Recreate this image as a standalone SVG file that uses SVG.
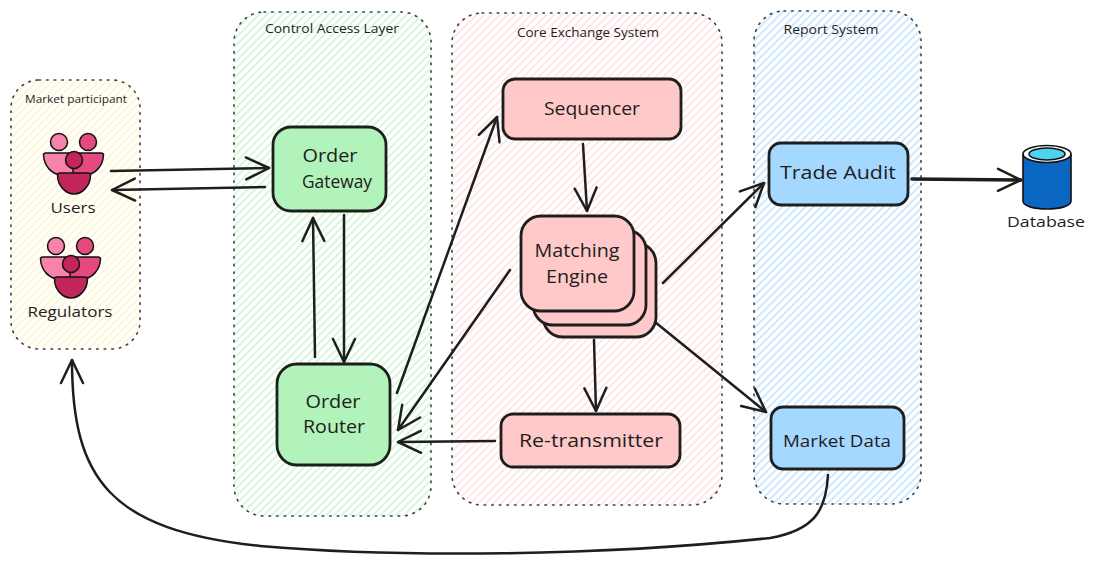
<svg xmlns="http://www.w3.org/2000/svg" width="1095" height="565" viewBox="0 0 1095 565">
<style>
text{font-family:"Open Sans","Noto Sans",sans-serif;fill:#1e1e1e;text-anchor:middle;dominant-baseline:central}
.t{font-size:18px}.s{font-size:12px}.m{font-size:15px}
.zone{stroke:#1e1e1e;stroke-width:1.6;stroke-dasharray:1.6 6;stroke-linecap:round;opacity:.85}
.box{stroke:#1e1e1e;stroke-width:2.8}
.red{fill:#ffc9c9}.grn{fill:#b2f2bb}.blu{fill:#a5d8ff}
.c{fill:none;stroke:#1e1e1e;stroke-width:2.500;stroke-linecap:round;marker-end:url(#a)}
.i{stroke:#111;stroke-width:1.5}
</style>
<defs>
<marker id="a" markerUnits="userSpaceOnUse" markerWidth="34" markerHeight="34" refX="27" refY="17" orient="auto"><path d="M4,6 L27,17 L4,28" fill="none" stroke="#1e1e1e" stroke-width="2.500" stroke-linecap="round" stroke-linejoin="round"/></marker>
<pattern id="hy" width="5.500" height="5.500" patternUnits="userSpaceOnUse" patternTransform="rotate(-45)"><rect width="5.500" height="1.700" fill="#ffec99" opacity=".6"/></pattern>
<pattern id="hg" width="5.500" height="5.500" patternUnits="userSpaceOnUse" patternTransform="rotate(-45)"><rect width="5.500" height="1.800" fill="#b2f2bb" opacity=".65"/></pattern>
<pattern id="hr" width="5.500" height="5.500" patternUnits="userSpaceOnUse" patternTransform="rotate(-45)"><rect width="5.500" height="1.700" fill="#ffc9c9" opacity=".6"/></pattern>
<pattern id="hb" width="5.500" height="5.500" patternUnits="userSpaceOnUse" patternTransform="rotate(-45)"><rect width="5.500" height="1.800" fill="#a5d8ff" opacity=".7"/></pattern>
<g id="people">
<circle class="i" cx="59" cy="142" r="8.500" fill="#f783ac"/>
<circle class="i" cx="88" cy="142" r="8.500" fill="#e64980"/>
<path class="i" d="M43.500,155 Q43.500,153 46,153 H74 V175 H62 C52,175 44,166 43.500,155Z" fill="#f783ac"/>
<path class="i" d="M103.500,155 Q103.500,153 101,153 H73 V175 H85 C95,175 103,166 103.500,155Z" fill="#e64980"/>
<circle class="i" cx="74" cy="160" r="8.500" fill="#c2255c"/>
<path class="i" d="M57.500,175 Q57.500,173 60,173 H88 Q90.500,173 90.500,175 C90.500,186 82,194 74,194 C66,194 57.500,186 57.500,175Z" fill="#c2255c"/>
</g>
</defs>

<g id="market-participant">
<rect class="zone" x="11" y="80" width="129" height="269" rx="28" fill="url(#hy)"/>
<text class="s" x="76" y="99" style="font-size:10px" textLength="102" lengthAdjust="spacingAndGlyphs">Market participant</text>
</g>
<g id="control-access-layer">
<rect class="zone" x="234" y="12" width="197" height="504" rx="30" fill="url(#hg)"/>
<text class="s" x="332" y="28" textLength="134" lengthAdjust="spacingAndGlyphs">Control Access Layer</text>
</g>
<g id="core-exchange-system">
<rect class="zone" x="452" y="13" width="270" height="492" rx="30" fill="url(#hr)"/>
<text class="s" x="588" y="32" textLength="142" lengthAdjust="spacingAndGlyphs">Core Exchange System</text>
</g>
<g id="report-system">
<rect class="zone" x="754" y="11" width="167" height="493" rx="30" fill="url(#hb)"/>
<text class="s" x="831" y="29" textLength="95" lengthAdjust="spacingAndGlyphs">Report System</text>
</g>

<g id="users">
<use href="#people"/>
<text class="m" x="73" y="207" textLength="45" lengthAdjust="spacingAndGlyphs">Users</text>
</g>
<g id="regulators">
<use href="#people" x="-3" y="104"/>
<text class="m" x="70" y="311" textLength="85" lengthAdjust="spacingAndGlyphs">Regulators</text>
</g>

<g id="order-gateway">
<rect class="box grn" x="273" y="127" width="113" height="84" rx="18"/>
<text class="t" x="330" y="155" textLength="55" lengthAdjust="spacingAndGlyphs">Order</text>
<text class="t" x="337" y="181" textLength="70" lengthAdjust="spacingAndGlyphs">Gateway</text>
</g>
<g id="order-router">
<rect class="box grn" x="277" y="364" width="113" height="101" rx="20"/>
<text class="t" x="333" y="401" textLength="55" lengthAdjust="spacingAndGlyphs">Order</text>
<text class="t" x="334" y="426" textLength="62" lengthAdjust="spacingAndGlyphs">Router</text>
</g>
<g id="sequencer">
<rect class="box red" x="503" y="79" width="178" height="60" rx="12"/>
<text class="t" x="592" y="108" textLength="96" lengthAdjust="spacingAndGlyphs">Sequencer</text>
</g>
<g id="matching-engine">
<rect class="box red" x="543" y="243" width="113" height="94" rx="20"/>
<rect class="box red" x="533" y="230" width="113" height="95" rx="20"/>
<rect class="box red" x="521" y="216" width="113" height="95" rx="20"/>
<text class="t" x="577" y="250" textLength="85" lengthAdjust="spacingAndGlyphs">Matching</text>
<text class="t" x="577" y="276" textLength="62" lengthAdjust="spacingAndGlyphs">Engine</text>
</g>
<g id="re-transmitter">
<rect class="box red" x="501" y="414" width="179" height="53" rx="12"/>
<text class="t" x="591" y="440" textLength="144" lengthAdjust="spacingAndGlyphs">Re-transmitter</text>
</g>
<g id="trade-audit">
<rect class="box blu" x="769" y="143" width="139" height="62" rx="12"/>
<text class="t" x="838" y="172" textLength="116" lengthAdjust="spacingAndGlyphs">Trade Audit</text>
</g>
<g id="market-data">
<rect class="box blu" x="771" y="407" width="133" height="62" rx="12"/>
<text class="t" x="837" y="440" style="font-size:17px" textLength="108" lengthAdjust="spacingAndGlyphs">Market Data</text>
</g>
<g id="database">
<path d="M1023,155 V201 C1023,206 1034,209 1047,209 C1060,209 1071,206 1071,201 V155Z" fill="#0b66c2" stroke="#111" stroke-width="1.600"/>
<ellipse cx="1047" cy="154" rx="24" ry="8.500" fill="#fff" stroke="#111" stroke-width="1.600"/>
<ellipse cx="1047" cy="154" rx="18" ry="6" fill="#4dd4ee" stroke="#111" stroke-width="1.500"/>
<text class="m" x="1046" y="221" textLength="78" lengthAdjust="spacingAndGlyphs">Database</text>
</g>

<g id="connectors">
<path class="c" d="M111,171 L269,168"/>
<path class="c" d="M265,187 L112,190"/>
<path class="c" d="M315,357 L313,218"/>
<path class="c" d="M344,215 L344,362"/>
<path class="c" d="M397,393 L497,117"/>
<path class="c" d="M583,144 L587,211"/>
<path class="c" d="M510,270 L398,430"/>
<path class="c" d="M594,340 L596,411"/>
<path class="c" d="M495,441 L398,442"/>
<path class="c" d="M663,283 L764,183"/>
<path class="c" d="M655,322 L766,412"/>
<path class="c" d="M912,179 L1021,180" style="stroke-width:3.600"/>
<path class="c" d="M828,475 C826,510 815,530 770,538 C600,556 400,558 260,546 C110,530 72,480 72,360"/>
</g>
</svg>
